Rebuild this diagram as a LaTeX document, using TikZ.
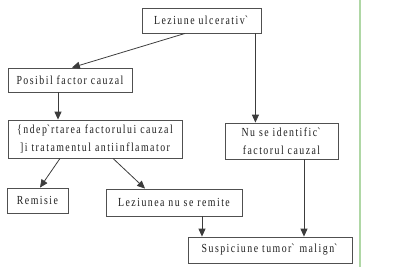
\documentclass[tikz,border=0pt]{standalone}
\usepackage{fontspec}
\usetikzlibrary{arrows.meta}
\newfontfamily\boxfont[FakeStretch=0.8,LetterSpace=12]{Liberation Serif}
\definecolor{bline}{RGB}{ 80, 80, 80}
\definecolor{aline}{RGB}{ 60, 60, 60}
\definecolor{tcol} {RGB}{ 30, 30, 30}
\definecolor{gcol} {RGB}{175,215,165}
\tikzset{
  BX/.style={draw=bline, line width=0.5pt, inner sep=0pt, align=center,
             text=tcol, font=\boxfont\fontsize{7}{10}\selectfont},
  AR/.style={aline, line width=0.45pt, -{Triangle[length=4.5pt,width=4pt]}},
}
\newcommand{\gr}{\textasciigrave}

\begin{document}
\begin{tikzpicture}[x=0.02cm, y=-0.02cm]
  \useasboundingbox (0,0) rectangle (400,267);

  %% ================================================================
  %%  BOXES
  %% ================================================================
  \node[BX, minimum width=2.38cm, minimum height=0.50cm] (lez)   at (201.5,20.5) {Leziune ulcerativ\gr};
  \node[BX, minimum width=2.48cm, minimum height=0.48cm] (pos)   at (70,80)      {Posibil factor cauzal};
  \node[BX, minimum width=3.48cm, minimum height=0.76cm] (ndep)  at (95,139)     {\{ndep\gr rtarea factorului cauzal\\]i tratamentul antiinflamator};
  \node[BX, minimum width=2.26cm, minimum height=0.72cm] (nuse)  at (281.5,141)  {Nu se identific\gr\\factorul cauzal};
  \node[BX, minimum width=1.22cm, minimum height=0.50cm] (rem)   at (37.5,200.5) {Remisie};
  \node[BX, minimum width=2.72cm, minimum height=0.54cm] (lnr)   at (174,202.5)  {Leziunea nu se remite};
  \node[BX, minimum width=3.28cm, minimum height=0.52cm] (susp)  at (270,250)    {Suspiciune tumor\gr{} malign\gr};

  %% ================================================================
  %%  ARROWS
  %% ================================================================
  \draw[AR] ([xshift=-0.33cm]lez.south) -- ([xshift=0.04cm]pos.north);
  \draw[AR] ([xshift=-0.12cm]lez.south east) -- ([xshift=-0.12cm]lez.south east |- nuse.north);
  \draw[AR] ([xshift=-0.24cm]pos.south) -- ([xshift=-0.24cm]pos.south |- ndep.north);
  \draw[AR] ([xshift=-0.70cm]ndep.south) -- ([xshift=0.05cm]rem.north);
  \draw[AR] ([xshift=0.36cm]ndep.south) -- ([xshift=-0.58cm]lnr.north);
  \draw[AR] ([xshift=0.56cm]lnr.south) -- ([xshift=0.56cm]lnr.south |- susp.north);
  \draw[AR] ([xshift=0.45cm]nuse.south) -- ([xshift=0.45cm]nuse.south |- susp.north);

  %% page margin line
  \draw[gcol, line width=0.6pt] (360,0) -- (360,267);
\end{tikzpicture}
\end{document}
